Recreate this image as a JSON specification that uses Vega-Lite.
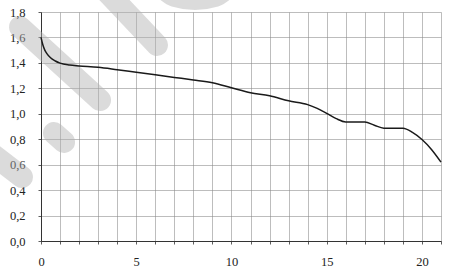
{
  "$schema": "https://vega.github.io/schema/vega-lite/v6.json",
  "width": 400,
  "height": 229,
  "autosize": {"type": "none"},
  "padding": {"left": 41, "top": 12, "right": 8, "bottom": 33},
  "background": "white",
  "config": {
    "view": {"stroke": null},
    "axis": {
      "labelFont": "Liberation Serif",
      "labelFontSize": 12.5,
      "labelColor": "#222",
      "labelOverlap": false,
      "gridColor": "#888",
      "gridWidth": 0.7,
      "gridOpacity": 0.8,
      "domainColor": "#333",
      "domainWidth": 1,
      "tickColor": "#333",
      "tickSize": 3,
      "tickWidth": 0.8,
      "title": null
    }
  },
  "datasets": {
    "curve": [
      {"x": 0, "y": 1.60},
      {"x": 0.1, "y": 1.54},
      {"x": 0.2, "y": 1.50},
      {"x": 0.3, "y": 1.475},
      {"x": 0.5, "y": 1.44},
      {"x": 0.75, "y": 1.415},
      {"x": 1, "y": 1.398},
      {"x": 1.5, "y": 1.383},
      {"x": 2, "y": 1.376},
      {"x": 3, "y": 1.365},
      {"x": 4, "y": 1.346},
      {"x": 5, "y": 1.326},
      {"x": 6, "y": 1.306},
      {"x": 7, "y": 1.286},
      {"x": 8, "y": 1.266},
      {"x": 9, "y": 1.244},
      {"x": 10, "y": 1.205},
      {"x": 11, "y": 1.166},
      {"x": 12, "y": 1.142},
      {"x": 13, "y": 1.102},
      {"x": 14, "y": 1.072},
      {"x": 14.5, "y": 1.042},
      {"x": 15, "y": 1.003},
      {"x": 15.5, "y": 0.962},
      {"x": 16, "y": 0.936},
      {"x": 17, "y": 0.935},
      {"x": 17.5, "y": 0.91},
      {"x": 18, "y": 0.887},
      {"x": 19, "y": 0.886},
      {"x": 19.5, "y": 0.854},
      {"x": 20, "y": 0.798},
      {"x": 20.5, "y": 0.72},
      {"x": 21, "y": 0.62}
    ],
    "mark": [
      {"seg": "a", "o": 0, "x": -1.10, "y": 1.682},
      {"seg": "a", "o": 1, "x": 3.10, "y": 1.108},
      {"seg": "b", "o": 0, "x": 3.36, "y": 1.973},
      {"seg": "b", "o": 1, "x": 6.09, "y": 1.541},
      {"seg": "c", "o": 0, "x": 6.25, "y": 2.012},
      {"seg": "c", "o": 1, "x": 7.03, "y": 1.926},
      {"seg": "c", "o": 2, "x": 8.08, "y": 1.902},
      {"seg": "c", "o": 3, "x": 9.13, "y": 1.926},
      {"seg": "c", "o": 4, "x": 9.92, "y": 2.012},
      {"seg": "d", "o": 0, "x": 0.68, "y": 0.849},
      {"seg": "d", "o": 1, "x": 1.21, "y": 0.778},
      {"seg": "e", "o": 0, "x": -3.20, "y": 0.755},
      {"seg": "e", "o": 1, "x": -1.0, "y": 0.503}
    ]
  },
  "encoding": {
    "x": {"field": "x", "type": "quantitative", "scale": {"domain": [0, 21], "nice": false, "zero": false},
      "axis": {"values": [0,1,2,3,4,5,6,7,8,9,10,11,12,13,14,15,16,17,18,19,20,21], "labelExpr": "datum.value % 5 == 0 ? datum.label : ''", "labelPadding": 11, "labelFlush": false}},
    "y": {"field": "y", "type": "quantitative", "scale": {"domain": [0, 1.8], "nice": false},
      "axis": {"values": [0, 0.2, 0.4, 0.6, 0.8, 1.0, 1.2, 1.4, 1.6, 1.8], "labelExpr": "replace(format(datum.value, '.1f'), '.', ',')", "labelPadding": 13, "labelFlush": false}}
  },
  "layer": [
    {
      "data": {"name": "mark"},
      "mark": {"type": "line", "strokeWidth": 22, "strokeCap": "round", "strokeJoin": "round", "color": "#b0b0b0", "opacity": 0.45, "interpolate": "monotone", "clip": false},
      "encoding": {
        "detail": {"field": "seg"},
        "order": {"field": "o"}
      }
    },
    {
      "data": {"name": "curve"},
      "mark": {"type": "line", "color": "#1a1a1a", "strokeWidth": 1.5, "interpolate": "monotone"},
      "encoding": {}
    }
  ]
}
